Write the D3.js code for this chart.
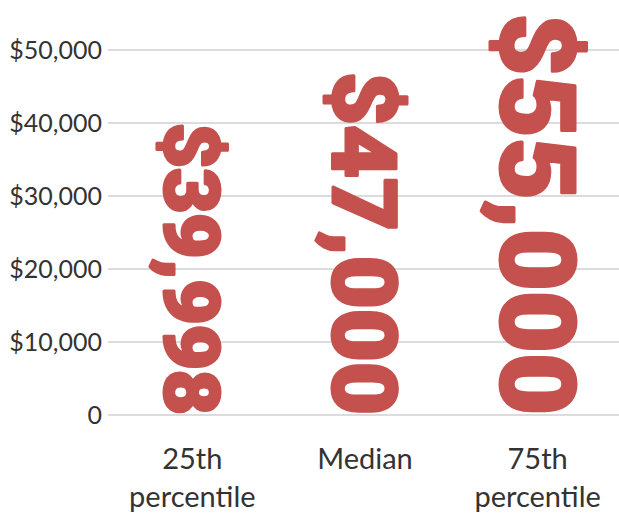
<!DOCTYPE html>
<html>
<head>
<meta charset="utf-8">
<script src="https://cdn.jsdelivr.net/npm/d3@7"></script>
<style>
  html, body { margin: 0; padding: 0; background: #fff; }
  svg { display: block; }
</style>
</head>
<body>
<svg id="chart" width="619" height="519"></svg>
<script>
const categories = ["25th percentile", "Median", "75th percentile"];
const categoryLines = [["25th", "percentile"], ["Median"], ["75th", "percentile"]];
const values = [39998, 47000, 55000];
const valueLabels = ["$39,998", "$47,000", "$55,000"];
const tickValues = [0, 10000, 20000, 30000, 40000, 50000];
const tickLabels = ["0", "$10,000", "$20,000", "$30,000", "$40,000", "$50,000"];

const svg = d3.select("#chart");
const W = 619, H = 519;
const barColor = "#c4514d";
const capRatio = 0.711;

const y = d3.scaleLinear().domain([0, 50000]).range([415, 50]);
const x = d3.scaleBand().domain(categories).range([106, 624]).padding(0);
const fontSize = d3.scaleLinear().domain([0, 55000]).range([0, 104]);

// gridlines
svg.append("g").selectAll("line").data(tickValues).join("line")
  .attr("x1", 108).attr("x2", W)
  .attr("y1", d => y(d)).attr("y2", d => y(d))
  .attr("stroke", "#dcdcdc").attr("stroke-width", 2);

// y tick labels
svg.append("g").selectAll("text").data(tickValues).join("text")
  .attr("x", 102).attr("y", d => y(d)).attr("dy", "0.35em")
  .attr("text-anchor", "end")
  .attr("font-family", "Lato, 'Noto Sans', sans-serif")
  .attr("font-size", 25)
  .attr("fill", "#333")
  .text((d, i) => tickLabels[i]);

// value "bars" as rotated text
svg.append("g").selectAll("text").data(values).join("text")
  .attr("transform", (d, i) => {
    const cx = x(categories[i]) + x.bandwidth() / 2;
    const fs = fontSize(d);
    return `translate(${cx - capRatio * fs / 2},${y(d)}) rotate(90)`;
  })
  .attr("text-anchor", "start")
  .attr("font-family", "Roboto, Inter, sans-serif")
  .attr("font-weight", 900)
  .attr("font-size", d => fontSize(d))
  .attr("textLength", d => y(0) - y(d))
  .attr("lengthAdjust", "spacingAndGlyphs")
  .attr("fill", barColor)
  .attr("stroke", barColor)
  .attr("stroke-width", 3)
  .attr("stroke-linejoin", "round")
  .text((d, i) => valueLabels[i]);

// category labels
const lab = svg.append("g").selectAll("text").data(categories).join("text")
  .attr("x", d => x(d) + x.bandwidth() / 2)
  .attr("y", 469)
  .attr("text-anchor", "middle")
  .attr("font-family", "Lato, 'Noto Sans', sans-serif")
  .attr("font-size", 29)
  .attr("fill", "#333");
lab.each(function(d, i) {
  const t = d3.select(this);
  categoryLines[i].forEach((line, j) => {
    t.append("tspan")
      .attr("x", x(d) + x.bandwidth() / 2)
      .attr("dy", j === 0 ? 0 : 38)
      .text(line);
  });
});
</script>
</body>
</html>
